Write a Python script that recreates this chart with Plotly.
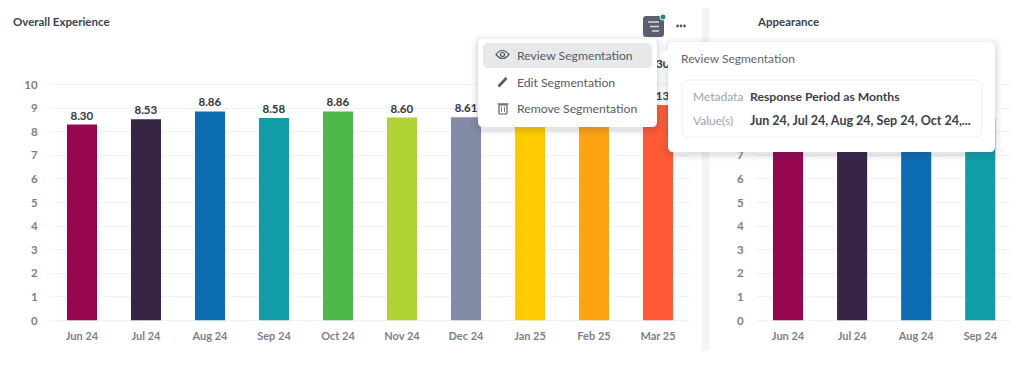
import plotly.graph_objects as go

W, H = 1024, 365
H_EFFECTIVE = 359

months_left = ["Jun 24", "Jul 24", "Aug 24", "Sep 24", "Oct 24", "Nov 24", "Dec 24", "Jan 25", "Feb 25", "Mar 25"]
overall_values = [8.30, 8.53, 8.86, 8.58, 8.86, 8.60, 8.61, 8.70, 8.90, 9.13]
overall_labels = ["8.30", "8.53", "8.86", "8.58", "8.86", "8.60", "8.61", "", "", "9.13"]
bar_colors = ["#96074f", "#372546", "#0b6cb2", "#109da6", "#4eb84a", "#b1d234", "#838ca6", "#ffcb00", "#fea412", "#ff5a36"]
months_right = ["Jun 24", "Jul 24", "Aug 24", "Sep 24"]
appearance_values = [8.40, 8.50, 8.70, 8.60]
y_ticks = list(range(0, 11))
y_labels_left = [str(v) for v in y_ticks]
y_labels_right = ["0", "1", "2", "3", "4", "5", "6", "7", "", "", ""]
stray_label = ["9.30"]
stray_value = [10.8]

FONT = "Lato, 'Open Sans', sans-serif"
DARK = "#3d4250"
MID = "#5f636d"
TICK = "#7d7f85"
GRID = "#f1f2f4"


def px(x):
    return x / W


def py(y):
    return 1 - y / H_EFFECTIVE


def rrect(x0, y0, x1, y1, r):
    a, b, c, d = px(x0), py(y0), px(x1), py(y1)
    rx, ry = r / W, r / H_EFFECTIVE
    return (
        f"M{a + rx},{b} L{c - rx},{b} Q{c},{b} {c},{b - ry} L{c},{d + ry} Q{c},{d} {c - rx},{d} "
        f"L{a + rx},{d} Q{a},{d} {a},{d + ry} L{a},{b - ry} Q{a},{b} {a + rx},{b} Z"
    )


def box(x0, y0, x1, y1, r, fill, line=None, width=1):
    return dict(
        type="path", xref="paper", yref="paper", layer="above", path=rrect(x0, y0, x1, y1, r),
        fillcolor=fill, line=dict(color=line or "rgba(0,0,0,0)", width=width if line else 0),
    )


def seg(x0, y0, x1, y1, color, width=1.5):
    return dict(
        type="line", xref="paper", yref="paper", layer="above",
        x0=px(x0), y0=py(y0), x1=px(x1), y1=py(y1), line=dict(color=color, width=width),
    )


def label(x, y, text, color=MID, size=12, bold=False, anchor="left"):
    return dict(
        xref="paper", yref="paper", x=px(x - 2), y=py(y), xanchor=anchor, yanchor="middle", showarrow=False,
        text=f"<b>{text}</b>" if bold else text, font=dict(family=FONT, size=size, color=color),
    )


fig = go.Figure()
fig.add_bar(
    x=months_left, y=overall_values, marker=dict(color=bar_colors, line=dict(width=0)), width=0.47,
    text=overall_labels, textposition="outside", cliponaxis=False, constraintext="none",
    textfont=dict(family=FONT, size=11.5, color="#33363d", weight="bold"), xaxis="x", yaxis="y",
)
fig.add_scatter(
    x=[months_left[-1]], y=stray_value, mode="text", text=stray_label, cliponaxis=False,
    textfont=dict(family=FONT, size=11.5, color="#33363d", weight="bold"), xaxis="x", yaxis="y",
)
fig.add_bar(
    x=months_right, y=appearance_values, marker=dict(color=bar_colors[:4], line=dict(width=0)), width=0.47,
    cliponaxis=False, xaxis="x2", yaxis="y2",
)

y_dom = [py(320.5), py(320.5 - 12 * 23.6)]
common_x = dict(
    showgrid=False, zeroline=False, showline=False, ticks="outside", ticklen=5, tickcolor="rgba(0,0,0,0)",
    tickfont=dict(family=FONT, size=11, color=TICK, weight="bold"), tickangle=0,
)
common_y = dict(
    range=[0, 12], tickvals=y_ticks, showgrid=True, gridcolor=GRID, gridwidth=1, zeroline=True,
    zerolinecolor=GRID, zerolinewidth=1, showline=False, ticks="outside", ticklen=9, tickcolor="rgba(0,0,0,0)",
    tickfont=dict(family=FONT, size=11.5, color=TICK, weight="bold"), domain=y_dom,
)

shapes = [
    dict(type="rect", xref="paper", yref="paper", layer="below", x0=px(702), x1=px(709), y0=py(8), y1=py(351),
         fillcolor="#f3f4f6", line=dict(width=0)),
    # toolbar button
    box(643, 16, 664, 37, 3, "#5a6070"),
    seg(648, 22, 659, 22, "#d6d8dd"), seg(650, 26.5, 659, 26.5, "#d6d8dd"), seg(652, 31, 659, 31, "#d6d8dd"),
    dict(type="circle", xref="paper", yref="paper", layer="above", x0=px(660), x1=px(666), y0=py(14), y1=py(20),
         fillcolor="#14888f", line=dict(color="white", width=1)),
]
# overflow dots
for cx in (677.5, 681, 684.5):
    shapes.append(dict(type="circle", xref="paper", yref="paper", layer="above", x0=px(cx - 1.4), x1=px(cx + 1.4),
                       y0=py(24.6), y1=py(27.4), fillcolor="#565b68", line=dict(width=0)))
# soft shadows behind the two popovers
for grow, alpha in ((7, 0.025), (5, 0.03), (3, 0.04), (1.5, 0.05)):
    fill = f"rgba(60,65,80,{alpha})"
    shapes.append(box(478 - grow, 39 - grow + 2, 657 + grow, 127 + grow + 2, 6 + grow, fill))
    shapes.append(box(668 - grow, 42 - grow + 2, 995 + grow, 152 + grow + 2, 6 + grow, fill))
shapes += [
    box(478, 39, 657, 127, 5, "#ffffff"),
    box(483, 43, 652, 68, 5, "#e7e8ea"),
    box(668, 42, 995, 152, 5, "#ffffff"),
    dict(type="path", xref="paper", yref="paper", layer="above", fillcolor="#ffffff", line=dict(width=0),
         path=f"M{px(669)},{py(48)} L{px(660)},{py(57)} L{px(669)},{py(66)} Z"),
    box(682, 80, 982, 137, 7, "#ffffff", "#eff0f2", 1),
    # eye icon
    dict(type="path", xref="paper", yref="paper", layer="above", fillcolor="rgba(0,0,0,0)",
         line=dict(color="#555a66", width=1.2),
         path=f"M{px(496)},{py(54.5)} Q{px(502.5)},{py(46.5)} {px(509)},{py(54.5)} Q{px(502.5)},{py(62.5)} {px(496)},{py(54.5)} Z"),
    dict(type="circle", xref="paper", yref="paper", layer="above", x0=px(500.5), x1=px(504.5), y0=py(52.5), y1=py(56.5),
         fillcolor="rgba(0,0,0,0)", line=dict(color="#555a66", width=1.2)),
    # pencil icon
    seg(498.5, 86.5, 506.5, 78, "#555a66", 2.6),
    # trash icon
    box(499, 105, 507, 114, 1, "rgba(0,0,0,0)", "#555a66", 1.2),
    seg(497.5, 104, 508.5, 104, "#555a66", 1.3),
    seg(501.5, 107, 501.5, 112, "#555a66", 0.8), seg(504.5, 107, 504.5, 112, "#555a66", 0.8),
]

annotations = [
    label(13, 22, "Overall Experience", DARK, 11.5, True),
    label(757, 22, "Appearance", DARK, 11.5, True),
    label(517, 55, "Review Segmentation", "#565a64", 12.2),
    label(517, 82, "Edit Segmentation", "#565a64", 12.2),
    label(517, 108.5, "Remove Segmentation", "#565a64", 12.2),
    label(681, 59, "Review Segmentation", "#5f636d", 12),
    label(693, 97, "Metadata", "#9ba1b2", 12),
    label(693, 120, "Value(s)", "#9ba1b2", 12),
    label(750, 97, "Response Period as Months", "#3a3e49", 12.2, True),
    label(750, 120, "Jun 24, Jul 24, Aug 24, Sep 24, Oct 24,...", "#3a3e49", 12.5, True),
]

fig.update_layout(
    width=W, height=H, autosize=False, showlegend=False, barmode="overlay",
    margin=dict(l=0, r=0, t=0, b=0), paper_bgcolor="white", plot_bgcolor="white",
    font=dict(family=FONT),
    xaxis=dict(domain=[px(50), px(690)], categoryorder="array", categoryarray=months_left, range=[-0.5, 9.5], **common_x),
    yaxis=dict(anchor="x", ticktext=y_labels_left, **common_y),
    xaxis2=dict(domain=[px(756), px(1011)], categoryorder="array", categoryarray=months_right, range=[-0.5, 3.48], **common_x),
    yaxis2=dict(anchor="x2", ticktext=y_labels_right, **common_y),
    shapes=shapes, annotations=annotations,
)

fig.write_html(
    "out.html", config=dict(displayModeBar=False, responsive=False),
    default_width="1024px", default_height="365px",
    post_script="document.documentElement.style.margin='0';document.documentElement.style.overflow='hidden';"
                "document.body.style.margin='0';document.body.style.overflow='hidden';",
)
